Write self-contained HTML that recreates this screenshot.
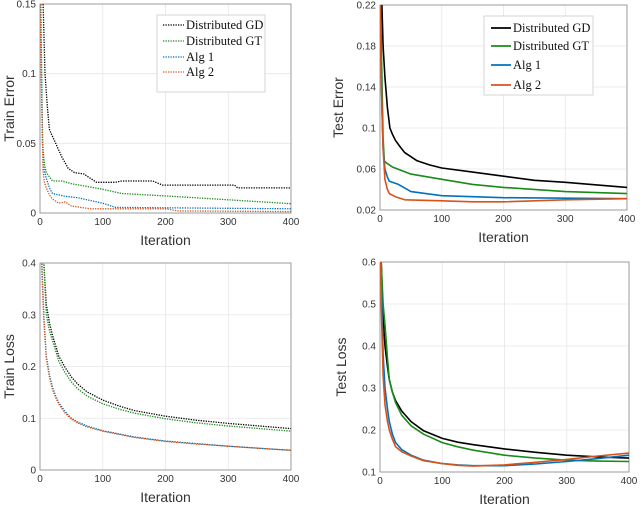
<!DOCTYPE html>
<html><head><meta charset="utf-8"><style>
body{margin:0;background:#fff;width:640px;height:506px;overflow:hidden}
svg{display:block}
text{font-family:"Liberation Sans",sans-serif}
.tk{font-size:10px;fill:#333}
.al{font-size:14px;fill:#333}
.lg{font-family:"Liberation Serif",serif;font-size:12.5px;fill:#111}
</style></head><body>
<svg id="s" width="640" height="506"></svg>
<script>
const iterTicks=[0,100,200,300,400];
// Train error
const teX_gd=[0,5,8,12,15,20,25,30,35,40,45,55,70,80,90,120,130,180,195,310,315,400];
const teY_gd=[0.2,0.15,0.1,0.075,0.06,0.055,0.05,0.045,0.04,0.036,0.032,0.029,0.028,0.025,0.022,0.022,0.023,0.023,0.02,0.02,0.018,0.018];
const teX_gt=[0,4,7,10,20,35,50,100,130,210,300,400];
const teY_gt=[0.2,0.05,0.035,0.029,0.023,0.023,0.021,0.017,0.014,0.012,0.0095,0.0067];
const teX_a1=[0,3,5,7,10,15,20,40,60,80,100,120,400];
const teY_a1=[0.15,0.08,0.035,0.03,0.025,0.018,0.014,0.012,0.011,0.009,0.007,0.004,0.003];
const teX_a2=[0,3,5,7,10,15,20,30,40,50,80,200,220,400];
const teY_a2=[0.15,0.07,0.03,0.022,0.018,0.013,0.01,0.007,0.008,0.005,0.003,0.003,0.0015,0.001];
// Test error
const tsX_gd=[0,3,5,8,12,16,20,25,32,40,50,60,80,100,150,200,250,300,400];
const tsY_gd=[0.3,0.22,0.18,0.15,0.12,0.1,0.094,0.088,0.082,0.076,0.072,0.068,0.064,0.061,0.057,0.053,0.049,0.047,0.042];
const tsX_gt=[0,3,5,7,10,20,50,100,150,200,300,400];
const tsY_gt=[0.25,0.15,0.09,0.068,0.066,0.062,0.055,0.05,0.045,0.042,0.038,0.036];
const tsX_a1=[0,3,5,8,12,15,30,50,100,200,400];
const tsY_a1=[0.22,0.12,0.08,0.06,0.052,0.048,0.045,0.038,0.034,0.032,0.031];
const tsX_a2=[0,2,5,8,12,15,25,40,100,150,200,300,400];
const tsY_a2=[0.22,0.15,0.08,0.05,0.04,0.036,0.033,0.03,0.029,0.028,0.028,0.03,0.031];
// Train loss
const tlX=[1,3,6,10,15,20,25,30,40,50,60,75,100,125,150,200,250,300,350,400];
const tlY_gd=[0.6,0.5,0.4,0.32,0.285,0.26,0.24,0.22,0.198,0.18,0.166,0.151,0.135,0.124,0.115,0.104,0.096,0.09,0.085,0.08];
const tlY_gt=[0.6,0.5,0.4,0.3,0.27,0.25,0.23,0.21,0.188,0.17,0.157,0.143,0.128,0.118,0.11,0.099,0.091,0.085,0.08,0.075];
const tlY_a1=[0.5,0.4,0.3,0.22,0.185,0.16,0.143,0.13,0.113,0.1,0.093,0.085,0.076,0.07,0.064,0.056,0.051,0.046,0.042,0.038];
const tlY_a2=[0.5,0.38,0.29,0.215,0.18,0.155,0.14,0.127,0.11,0.098,0.091,0.083,0.075,0.069,0.063,0.055,0.05,0.046,0.042,0.038];
// Test loss
const lsX=[1,2,5,8,12,15,20,25,35,50,70,100,125,150,200,250,300,350,400];
const lsY_gd=[0.7,0.6,0.47,0.4,0.35,0.32,0.29,0.27,0.245,0.22,0.198,0.18,0.171,0.165,0.155,0.147,0.14,0.136,0.133];
const lsY_gt=[0.7,0.6,0.5,0.45,0.37,0.32,0.29,0.265,0.235,0.21,0.19,0.17,0.16,0.152,0.14,0.133,0.128,0.126,0.125];
const lsY_a1=[0.65,0.55,0.38,0.3,0.25,0.22,0.19,0.17,0.153,0.14,0.128,0.12,0.117,0.115,0.115,0.119,0.125,0.132,0.14];
const lsY_a2=[0.65,0.5,0.33,0.26,0.22,0.2,0.178,0.16,0.148,0.138,0.127,0.12,0.116,0.114,0.117,0.123,0.13,0.138,0.145];

const C={gd:'#000',gt:'#1a8a1a',a1:'#0072bd',a2:'#d95319'};
const NS='http://www.w3.org/2000/svg';
const svg=document.getElementById('s');
function mk(tag,attrs,parent){const e=document.createElementNS(NS,tag);for(const k in attrs)e.setAttribute(k,attrs[k]);(parent||svg).appendChild(e);return e;}
let pid=0;
function panel(o){
  pid++;
  const g=mk('g',{});
  
  
  const sx=v=>o.x0+(v-0)/400*(o.x1-o.x0);
  const sy=v=>o.y1-(v-o.ymin)/(o.ymax-o.ymin)*(o.y1-o.y0);
  const clip=mk('clipPath',{id:'c'+pid},g);
  mk('rect',{x:o.x0,y:o.y0,width:o.x1-o.x0,height:o.y1-o.y0},clip);
  iterTicks.forEach(t=>{
    const l=mk('line',{x1:sx(t),x2:sx(t),y1:o.y0,y2:o.y1,stroke:'#e6e6e6','stroke-width':0.8},g);
    
    const tx=mk('text',{x:sx(t),y:o.y1+12,'text-anchor':'middle',class:'tk'},g);tx.textContent=t;
    
  });
  o.yt.forEach(t=>{
    const l=mk('line',{x1:o.x0,x2:o.x1,y1:sy(t),y2:sy(t),stroke:'#e6e6e6','stroke-width':0.8},g);
    
    const tx=mk('text',{x:o.x0-4,y:sy(t)+3.5,'text-anchor':'end',class:'tk'},g);tx.textContent=t;
    
  });
  const box=mk('rect',{x:o.x0,y:o.y0,width:o.x1-o.x0,height:o.y1-o.y0,fill:'none',stroke:'#888','stroke-width':0.8},g);
  
  o.series.forEach(s=>{
    const d=s.xs.map((x,i)=>(i?'L':'M')+sx(x).toFixed(1)+','+sy(s.ys[i]).toFixed(1)).join('');
    const p=mk('path',{d:d,fill:'none',stroke:C[s.k],'stroke-width':o.dot?1.3:1.6,'stroke-dasharray':o.dot?'1.3 1.2':'none','stroke-linejoin':'round','clip-path':'url(#c'+pid+')'},g);
    
  });
  const xl=mk('text',{x:(o.x0+o.x1)/2,y:o.y1+32,'text-anchor':'middle',class:'al'},g);xl.textContent='Iteration';
  
  const cy=(o.y0+o.y1)/2;
  const yl=mk('text',{x:o.ylx,y:cy,'text-anchor':'middle',class:'al',transform:`rotate(-90 ${o.ylx} ${cy})`},g);yl.textContent=o.ylabel;
  
  if(o.leg){
    const L=o.leg;
    const lg=mk('g',{},g);
    
    mk('rect',{x:L.x,y:L.y,width:L.w,height:L.h,fill:'#fff',stroke:'#ccc','stroke-width':0.8},lg);
    const names=['Distributed GD','Distributed GT','Alg 1','Alg 2'],ks=['gd','gt','a1','a2'];
    ks.forEach((k,i)=>{
      const yy=L.ys[i];
      const ln=mk('line',{x1:L.lx,x2:L.lx+L.ll,y1:yy,y2:yy,stroke:C[k],'stroke-width':o.dot?1.3:1.8,'stroke-dasharray':o.dot?'1.3 1.2':'none'},lg);
      
      const t=mk('text',{x:L.lx+L.ll+2,y:yy+4,class:'lg'},lg);t.textContent=names[i];
      
    });
  }
}
panel({name:'train-error-plot',x0:40,x1:291,y0:4,y1:213,ymin:0,ymax:0.15,yt:[0,0.05,0.1,0.15],ylabel:'Train Error',ylx:14,dot:true,
  series:[{k:'gd',xs:teX_gd,ys:teY_gd},{k:'gt',xs:teX_gt,ys:teY_gt},{k:'a1',xs:teX_a1,ys:teY_a1},{k:'a2',xs:teX_a2,ys:teY_a2}],
  leg:{x:157,y:15,w:108,h:77,lx:163,ll:21,ys:[25,41,57,72]}});
panel({name:'test-error-plot',x0:380,x1:627,y0:5,y1:210,ymin:0.02,ymax:0.22,yt:[0.02,0.06,0.1,0.14,0.18,0.22],ylabel:'Test Error',ylx:343,dot:false,
  series:[{k:'gd',xs:tsX_gd,ys:tsY_gd},{k:'gt',xs:tsX_gt,ys:tsY_gt},{k:'a1',xs:tsX_a1,ys:tsY_a1},{k:'a2',xs:tsX_a2,ys:tsY_a2}],
  leg:{x:484,y:16,w:109,h:79,lx:491,ll:20,ys:[28,46,65,85]}});
panel({name:'train-loss-plot',x0:40,x1:291,y0:263,y1:470,ymin:0,ymax:0.4,yt:[0,0.1,0.2,0.3,0.4],ylabel:'Train Loss',ylx:14,dot:true,
  series:[{k:'gd',xs:tlX,ys:tlY_gd},{k:'gt',xs:tlX,ys:tlY_gt},{k:'a1',xs:tlX,ys:tlY_a1},{k:'a2',xs:tlX,ys:tlY_a2}]});
panel({name:'test-loss-plot',x0:380,x1:629,y0:262,y1:472,ymin:0.1,ymax:0.6,yt:[0.1,0.2,0.3,0.4,0.5,0.6],ylabel:'Test Loss',ylx:346,dot:false,
  series:[{k:'gd',xs:lsX,ys:lsY_gd},{k:'gt',xs:lsX,ys:lsY_gt},{k:'a1',xs:lsX,ys:lsY_a1},{k:'a2',xs:lsX,ys:lsY_a2}]});
</script>
</body></html>
